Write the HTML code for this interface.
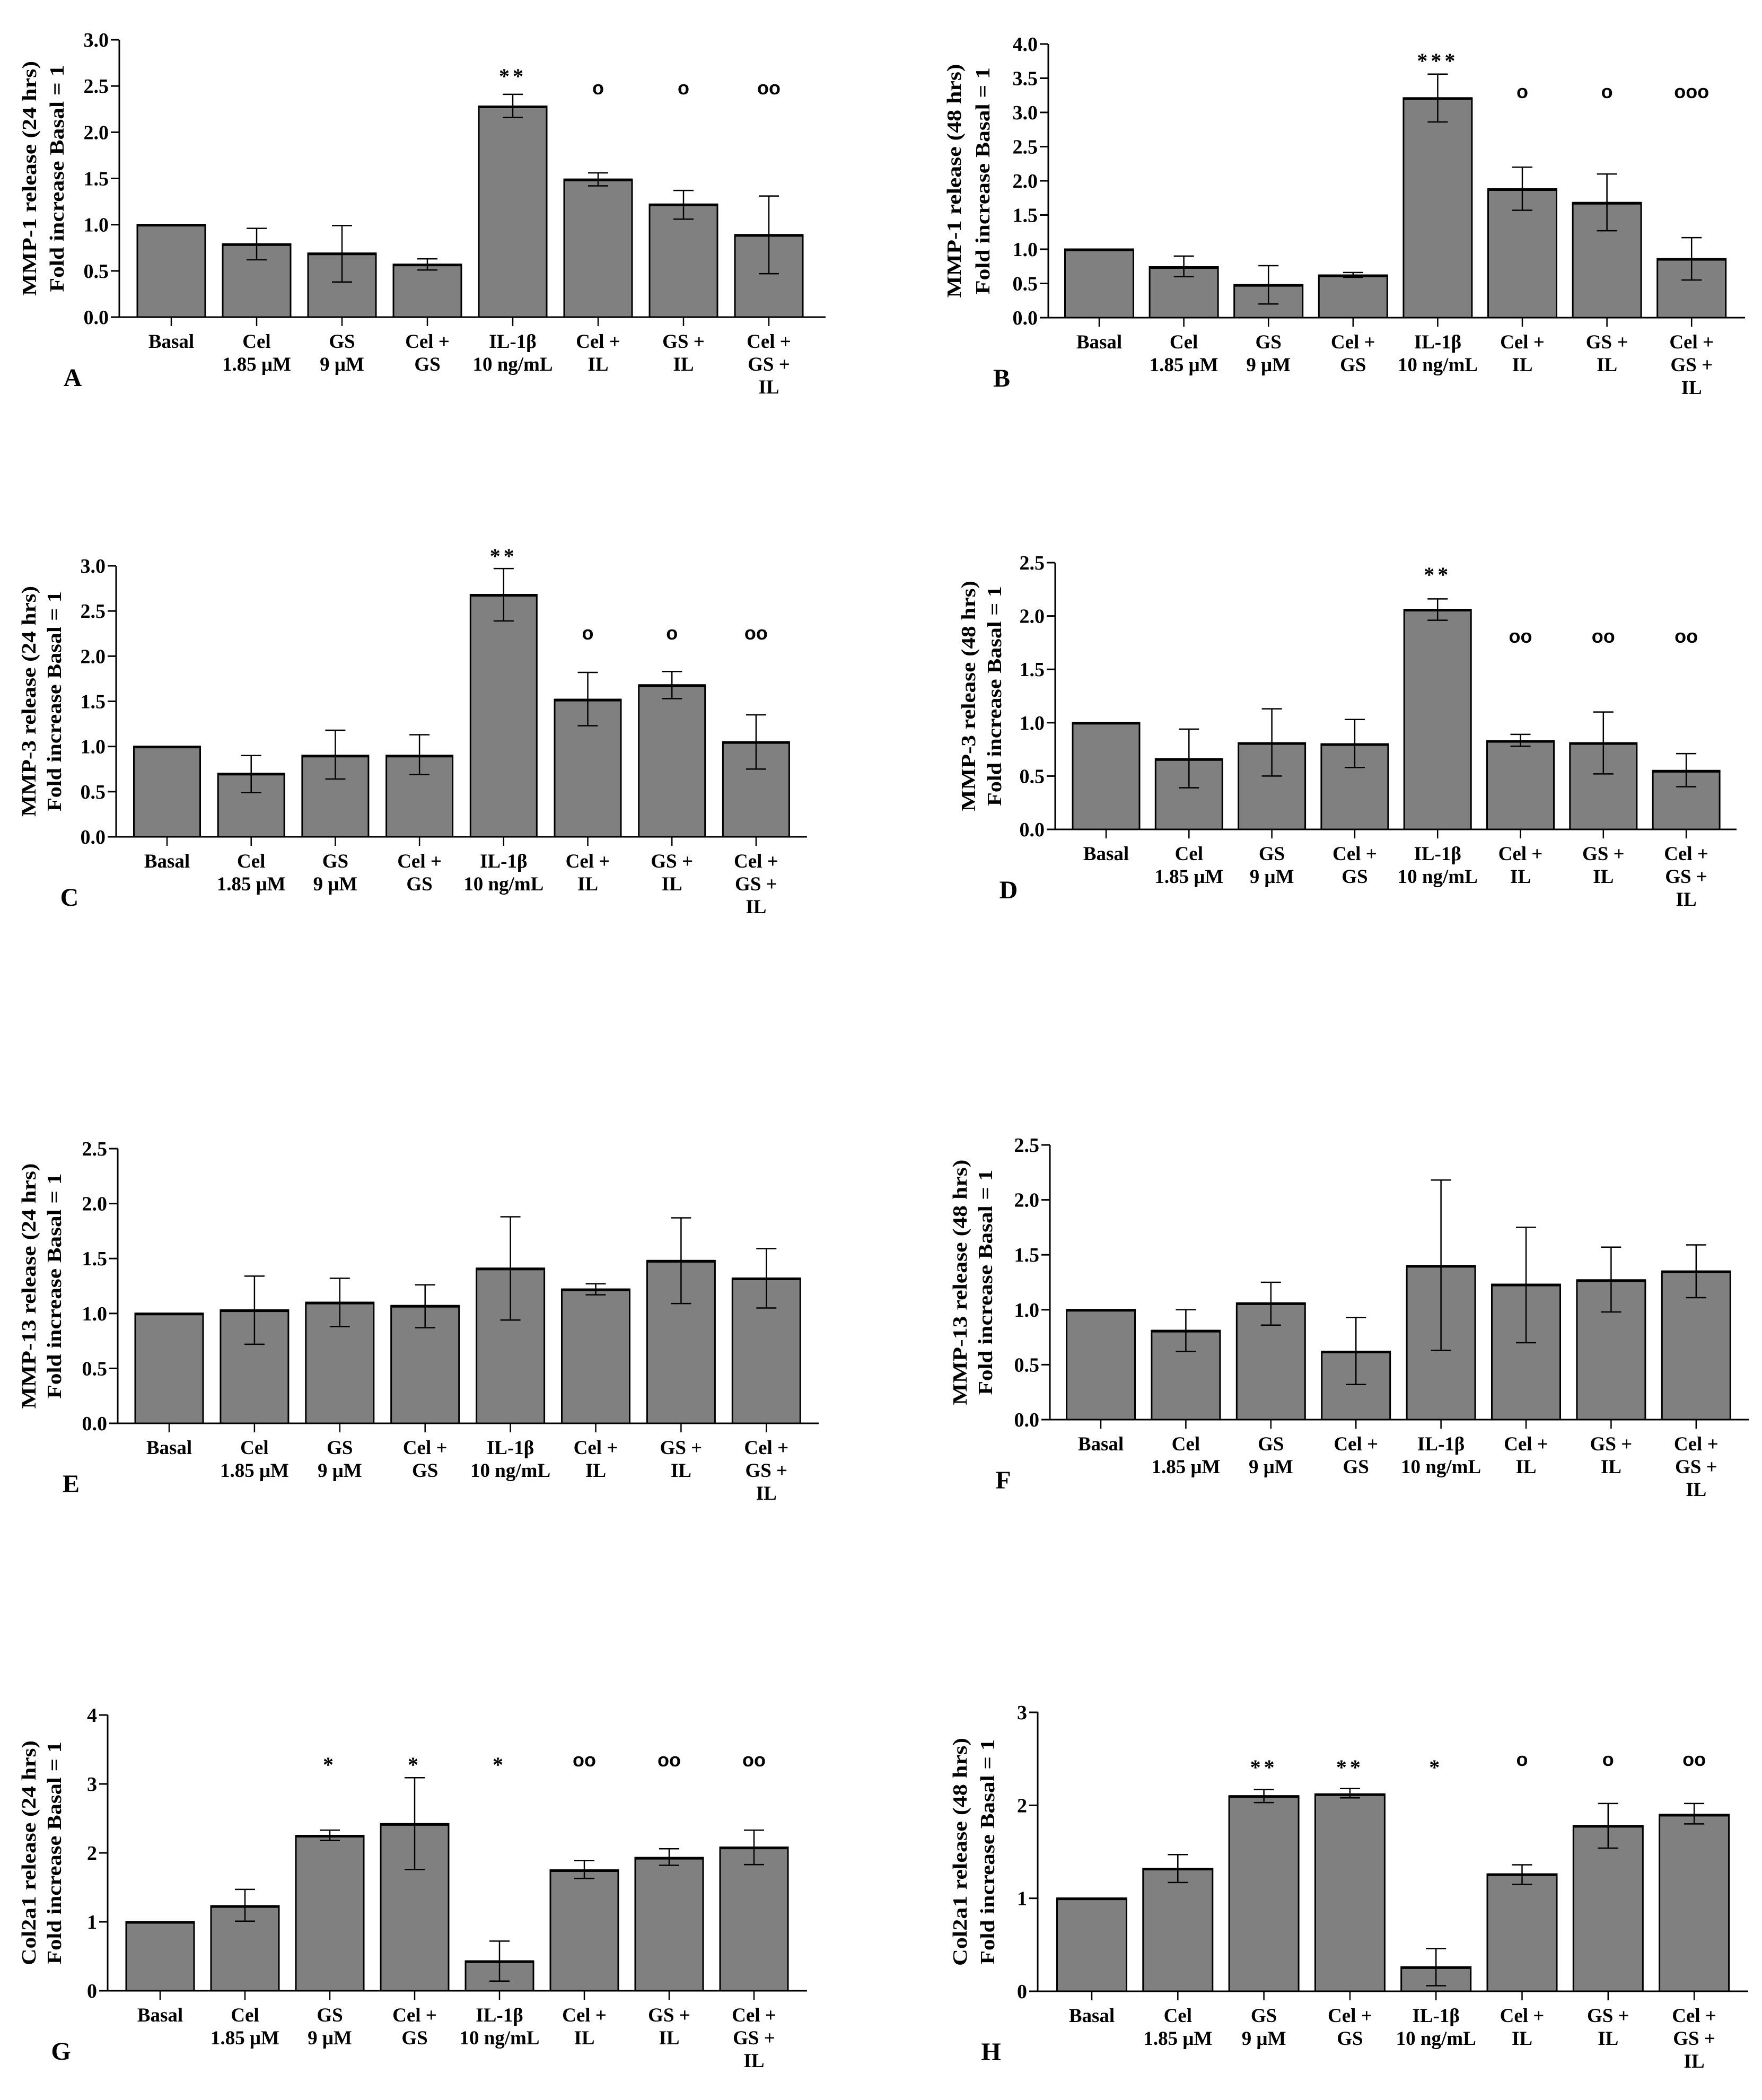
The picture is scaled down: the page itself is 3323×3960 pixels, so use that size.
<!DOCTYPE html>
<html><head><meta charset="utf-8"><style>
html,body{margin:0;padding:0;background:#fff;}
svg{display:block;}
text{font-family:"Liberation Serif",serif;font-weight:bold;fill:#000;}
</style></head>
<body>
<svg id="fig" width="3323" height="3960" viewBox="0 0 3323 3960" xmlns="http://www.w3.org/2000/svg">
<rect x="0" y="0" width="3323" height="3960" fill="#fff"/>
</svg>
<script>
const categories = [["Basal"],["Cel","1.85 μM"],["GS","9 μM"],["Cel +","GS"],["IL-1β","10 ng/mL"],["Cel +","IL"],["GS +","IL"],["Cel +","GS +","IL"]];

const meanA = [1.0,0.79,0.69,0.57,2.28,1.49,1.22,0.89];
const hiA   = [null,0.96,0.99,0.63,2.41,1.56,1.37,1.31];
const loA   = [null,0.62,0.38,0.51,2.16,1.42,1.06,0.47];
const sigA  = ["","","","","**","o","o","oo"];

const meanB = [1.0,0.74,0.48,0.62,3.21,1.88,1.68,0.86];
const hiB   = [null,0.90,0.76,0.66,3.56,2.20,2.10,1.17];
const loB   = [null,0.60,0.20,0.59,2.86,1.57,1.27,0.55];
const sigB  = ["","","","","***","o","o","ooo"];

const meanC = [1.0,0.70,0.90,0.90,2.68,1.52,1.68,1.05];
const hiC   = [null,0.90,1.18,1.13,2.97,1.82,1.83,1.35];
const loC   = [null,0.49,0.64,0.69,2.39,1.23,1.53,0.75];
const sigC  = ["","","","","**","o","o","oo"];

const meanD = [1.0,0.66,0.81,0.80,2.06,0.83,0.81,0.55];
const hiD   = [null,0.94,1.13,1.03,2.16,0.89,1.10,0.71];
const loD   = [null,0.39,0.50,0.58,1.96,0.78,0.52,0.40];
const sigD  = ["","","","","**","oo","oo","oo"];

const meanE = [1.0,1.03,1.10,1.07,1.41,1.22,1.48,1.32];
const hiE   = [null,1.34,1.32,1.26,1.88,1.27,1.87,1.59];
const loE   = [null,0.72,0.88,0.87,0.94,1.17,1.09,1.05];
const sigE  = ["","","","","","","",""];

const meanF = [1.0,0.81,1.06,0.62,1.40,1.23,1.27,1.35];
const hiF   = [null,1.00,1.25,0.93,2.18,1.75,1.57,1.59];
const loF   = [null,0.62,0.86,0.32,0.63,0.70,0.98,1.11];
const sigF  = ["","","","","","","",""];

const meanG = [1.0,1.23,2.25,2.42,0.43,1.75,1.93,2.08];
const hiG   = [null,1.47,2.33,3.09,0.72,1.89,2.06,2.33];
const loG   = [null,1.01,2.18,1.76,0.14,1.63,1.82,1.83];
const sigG  = ["","","*","*","*","oo","oo","oo"];

const meanH = [1.0,1.32,2.10,2.12,0.26,1.26,1.78,1.90];
const hiH   = [null,1.47,2.17,2.18,0.46,1.36,2.02,2.02];
const loH   = [null,1.17,2.03,2.08,0.06,1.15,1.54,1.80];
const sigH  = ["","","**","**","*","o","o","oo"];

const ticksA = ["0.0","0.5","1.0","1.5","2.0","2.5","3.0"];
const ticksB = ["0.0","0.5","1.0","1.5","2.0","2.5","3.0","3.5","4.0"];
const ticksC = ["0.0","0.5","1.0","1.5","2.0","2.5","3.0"];
const ticksD = ["0.0","0.5","1.0","1.5","2.0","2.5"];
const ticksE = ["0.0","0.5","1.0","1.5","2.0","2.5"];
const ticksF = ["0.0","0.5","1.0","1.5","2.0","2.5"];
const ticksG = ["0","1","2","3","4"];
const ticksH = ["0","1","2","3"];

const NS = "http://www.w3.org/2000/svg";
const fig = document.getElementById("fig");
function mk(tag, attrs, parent){
  const e = document.createElementNS(NS, tag);
  for (const k in attrs) e.setAttribute(k, attrs[k]);
  (parent||fig).appendChild(e);
  return e;
}

const panels = [
 {id:"a",letter:"A",t1:"MMP-1 release (24 hrs)",mean:meanA,hi:hiA,lo:loA,sig:sigA,ticks:ticksA,ax:225,top:75,zero:598,end:1557,c0:323,step:161,bw:128,sigY:[137,168],tx:[55,107],tl:[443,428]},
 {id:"b",letter:"B",t1:"MMP-1 release (48 hrs)",mean:meanB,hi:hiB,lo:loB,sig:sigB,ticks:ticksB,ax:1977,top:83,zero:599,end:3291,c0:2073,step:159.6,bw:129,sigY:[108,175],tx:[1799,1853],tl:[441,428]},
 {id:"c",letter:"C",t1:"MMP-3 release (24 hrs)",mean:meanC,hi:hiC,lo:loC,sig:sigC,ticks:ticksC,ax:219,top:1067,zero:1578,end:1522,c0:315,step:158.7,bw:125,sigY:[1042,1196],tx:[54,102],tl:[435,415]},
 {id:"d",letter:"D",t1:"MMP-3 release (48 hrs)",mean:meanD,hi:hiD,lo:loD,sig:sigD,ticks:ticksD,ax:1990,top:1061,zero:1564,end:3275,c0:2086,step:156.3,bw:126,sigY:[1077,1202],tx:[1826,1875],tl:[435,415]},
 {id:"e",letter:"E",t1:"MMP-13 release (24 hrs)",mean:meanE,hi:hiE,lo:loE,sig:sigE,ticks:ticksE,ax:222,top:2166,zero:2684,end:1544,c0:319,step:160.9,bw:128,sigY:[0,0],tx:[54,102],tl:[463,425]},
 {id:"f",letter:"F",t1:"MMP-13 release (48 hrs)",mean:meanF,hi:hiF,lo:loF,sig:sigF,ticks:ticksF,ax:1980,top:2159,zero:2677,end:3298,c0:2076,step:160.4,bw:129,sigY:[0,0],tx:[1810,1858],tl:[463,425]},
 {id:"g",letter:"G",t1:"Col2a1 release (24 hrs)",mean:meanG,hi:hiG,lo:loG,sig:sigG,ticks:ticksG,ax:203,top:3234,zero:3754,end:1522,c0:302,step:160,bw:128,sigY:[3321,3321],tx:[54,102],tl:[424,420]},
 {id:"h",letter:"H",t1:"Col2a1 release (48 hrs)",mean:meanH,hi:hiH,lo:loH,sig:sigH,ticks:ticksH,ax:1957,top:3229,zero:3755,end:3297,c0:2059,step:162.3,bw:131,sigY:[3326,3320],tx:[1810,1862],tl:[430,425]}
];

panels.forEach(p=>{
  const g = mk("g",{});
  
  
  const ymax = parseFloat(p.ticks[p.ticks.length-1]);
  const yScale = v => p.zero - (v/ymax)*(p.zero-p.top);
  const xScale = i => p.c0 + i*p.step;

  // bars
  p.mean.forEach((v,i)=>{
    const y = yScale(v);
    const r = mk("rect",{x:xScale(i)-p.bw/2,y:y,width:p.bw,height:p.zero-y,fill:"#808080",stroke:"#000","stroke-width":3},g);
    
    
    mk("line",{x1:xScale(i)-p.bw/2,x2:xScale(i)+p.bw/2,y1:y+1,y2:y+1,stroke:"#000","stroke-width":5},g);
  });
  // error bars
  p.mean.forEach((v,i)=>{
    if (p.hi[i]===null) return;
    const cx = xScale(i), yh = yScale(p.hi[i]), yl = yScale(p.lo[i]);
    const eg = mk("g",{stroke:"#000","stroke-width":2.5},g);
    
    
    mk("line",{x1:cx,x2:cx,y1:yh,y2:yl},eg);
    mk("line",{x1:cx-19,x2:cx+19,y1:yh,y2:yh},eg);
    mk("line",{x1:cx-19,x2:cx+19,y1:yl,y2:yl},eg);
  });
  // significance marks
  p.sig.forEach((s,i)=>{
    if (!s) return;
    const star = s.indexOf("*")>=0;
    const t = mk("text",{x:xScale(i),y:(star?p.sigY[0]:p.sigY[1])+(star?20:10),"text-anchor":"middle","font-size":star?40:36,"letter-spacing":star?6:0},g);
    if (!star) t.setAttribute("style","font-family:'Liberation Sans',sans-serif;font-weight:bold");
    t.textContent = s;
    
    
  });
  // y axis
  const ya = mk("line",{x1:p.ax,x2:p.ax,y1:p.top,y2:p.zero,stroke:"#000","stroke-width":3},g);
  
  
  p.ticks.forEach((tk,k)=>{
    const y = yScale(parseFloat(tk));
    mk("line",{x1:p.ax-16,x2:p.ax,y1:y,y2:y,stroke:"#000","stroke-width":3},g);
    const t = mk("text",{x:p.ax-20,y:y+13,"text-anchor":"end","font-size":38},g);
    t.textContent = tk;
    
    
  });
  // x axis
  const xa = mk("line",{x1:p.ax,x2:p.end,y1:p.zero,y2:p.zero,stroke:"#000","stroke-width":3},g);
  
  
  categories.forEach((lines,i)=>{
    const cx = xScale(i);
    mk("line",{x1:cx,x2:cx,y1:p.zero,y2:p.zero+17,stroke:"#000","stroke-width":2.5},g);
    lines.forEach((ln,j)=>{
      const t = mk("text",{x:cx,y:p.zero+58+j*43,"text-anchor":"middle","font-size":37},g);
      t.textContent = ln;
      
      
    });
  });
  // y title
  const cy = (p.top+p.zero)/2;
  const t1 = mk("text",{x:0,y:0,"text-anchor":"middle","font-size":38,textLength:p.tl[0],lengthAdjust:"spacingAndGlyphs",transform:`translate(${p.tx[0]+13},${cy}) rotate(-90)`},g);
  t1.textContent = p.t1;
  
  
  const t2 = mk("text",{x:0,y:0,"text-anchor":"middle","font-size":38,textLength:p.tl[1],lengthAdjust:"spacingAndGlyphs",transform:`translate(${p.tx[1]+13},${cy}) rotate(-90)`},g);
  t2.textContent = "Fold increase Basal = 1";
  
  
  // panel letter
  const L = mk("text",{x:p.ax-88,y:p.zero+130,"text-anchor":"middle","font-size":48},g);
  L.textContent = p.letter;
  
  
});
</script>
</body></html>
